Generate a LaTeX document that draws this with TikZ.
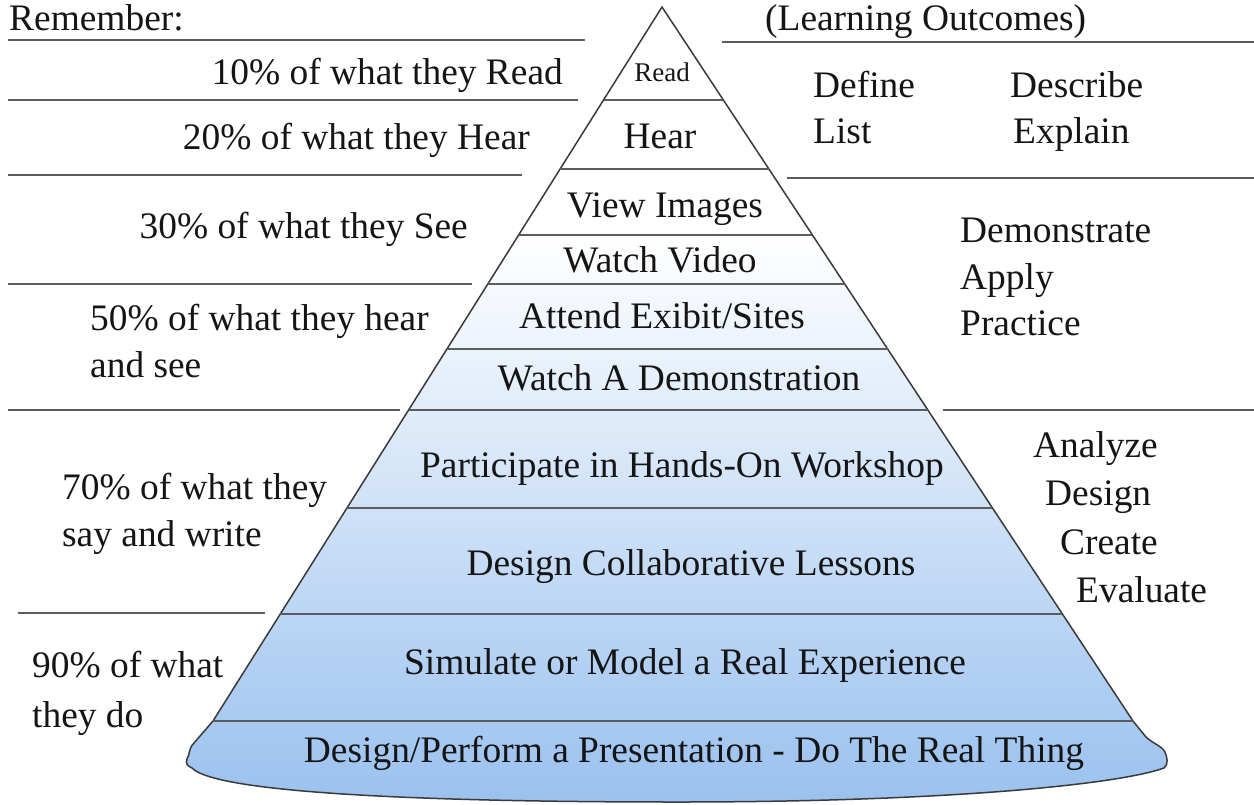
\documentclass[tikz,border=0pt]{standalone}
\usepackage{fontspec}
\setmainfont{Liberation Serif}
\newfontfamily\tnr{Liberation Serif}
\usetikzlibrary{calc}
\definecolor{pbot}{HTML}{9AC1EF}
\definecolor{pline}{HTML}{3A3A3A}
\definecolor{gline}{HTML}{5C5C5C}
\definecolor{txt}{HTML}{151515}
\pgfdeclareverticalshading{pyrshade}{100bp}{color(0bp)=(pbot); color(25bp)=(pbot); color(60.5bp)=(white); color(100bp)=(white)}
\begin{document}
\begin{tikzpicture}[x=1pt,y=-1pt,
  lbl/.style={inner sep=0pt, text=txt, font=\tnr\fontsize{37.4}{44}\selectfont},
  small/.style={inner sep=0pt, text=txt, font=\tnr\fontsize{27}{32}\selectfont},
  guide/.style={draw=gline, line width=2.2pt},
  layer/.style={draw=gline, line width=2pt}]
\useasboundingbox (0,0) rectangle (1254,804);
% pyramid key points
\coordinate (A) at (662,7);
\coordinate (BL) at (213,721);
\coordinate (BR) at (1133,721);
% pyramid body
\shadedraw[shading=pyrshade, draw=pline, line width=1.5pt]
  (A) -- (BL) -- (194,743)
  .. controls (188,749) and (190,755) .. (187,759)
  .. controls (185,764) and (188,766) .. (192,768)
  .. controls (215,792) and (410,802) .. (678,802)
  .. controls (950,802) and (1120,784) .. (1164,768)
  .. controls (1169,764) and (1167,757) .. (1165,752)
  .. controls (1162,746) and (1152,743) .. (1146,737)
  -- (BR) -- cycle;
% layer separators
\foreach \yy/\nm in {100/l1,169/l2,235/l3,284/l4,349/l5,410/l6,508/l7,614/l8,721/l9}{
  \pgfmathsetmacro{\tt}{(\yy-7)/714}
  \coordinate (\nm a) at ($(A)!\tt!(BL)$);
  \coordinate (\nm b) at ($(A)!\tt!(BR)$);
  \draw[layer] (\nm a) -- (\nm b);
}
% layer labels
\node[small, anchor=base] (tRead) at (662,81) {Read};
\node[lbl, anchor=base] (tHear) at (660,148) {Hear};
\node[lbl, anchor=base] (tView) at (665,217) {View Images};
\node[lbl, anchor=base] (tVideo) at (660,272) {Watch Video};
\node[lbl, anchor=base] (tAttend) at (662,328) {Attend Exibit/Sites};
\node[lbl, anchor=base] (tDemo) at (679,390) {Watch A Demonstration};
\node[lbl, anchor=base] (tPart) at (682,477) {Participate in Hands-On Workshop};
\node[lbl, anchor=base] (tCollab) at (691,575) {Design Collaborative Lessons};
\node[lbl, anchor=base] (tSim) at (685,674) {Simulate or Model a Real Experience};
\node[lbl, anchor=base] (tPerf) at (694,762) {Design/Perform a Presentation - Do The Real Thing};
% left guide lines
\draw[guide] (8,40) -- (585,40);
\draw[guide] (8,100) -- (578,100);
\draw[guide] (8,175) -- (522,175);
\draw[guide] (8,284) -- (472,284);
\draw[guide] (8,410) -- (400,410);
\draw[guide] (18,613) -- (265,613);
% right guide lines
\draw[guide] (722,42) -- (1254,42);
\draw[guide] (787,178) -- (1254,178);
\draw[guide] (943,410) -- (1254,410);
% left texts
\node[lbl, anchor=base west] (rem) at (9,30) {Remember:};
\node[lbl, anchor=base east] (p10) at (563,84) {10\% of what they Read};
\node[lbl, anchor=base east] (p20) at (530,149) {20\% of what they Hear};
\node[lbl, anchor=base east] (p30) at (468,238) {30\% of what they See};
\node[lbl, anchor=base west] (p50a) at (90,330) {50\% of what they hear};
\node[lbl, anchor=base west] (p50b) at (90,377) {and see};
\node[lbl, anchor=base west] (p70a) at (62,499) {70\% of what they};
\node[lbl, anchor=base west] (p70b) at (62,546) {say and write};
\node[lbl, anchor=base west] (p90a) at (32,677) {90\% of what};
\node[lbl, anchor=base west] (p90b) at (32,727) {they do};
% right texts
\node[lbl, anchor=base west] (lo) at (765,30) {(Learning Outcomes)};
\node[lbl, anchor=base west] (def) at (813,97) {Define};
\node[lbl, anchor=base west] (lst) at (813,143) {List};
\node[lbl, anchor=base west] (desc) at (1010,97) {Describe};
\node[lbl, anchor=base west] (expl) at (1013,143) {Explain};
\node[lbl, anchor=base west] (dem) at (960,242) {Demonstrate};
\node[lbl, anchor=base west] (app) at (960,289) {Apply};
\node[lbl, anchor=base west] (prac) at (960,335) {Practice};
\node[lbl, anchor=base west] (ana) at (1033,457) {Analyze};
\node[lbl, anchor=base west] (des) at (1045,505) {Design};
\node[lbl, anchor=base west] (cre) at (1060,554) {Create};
\node[lbl, anchor=base west] (eva) at (1076,602) {Evaluate};
\end{tikzpicture}
\end{document}
